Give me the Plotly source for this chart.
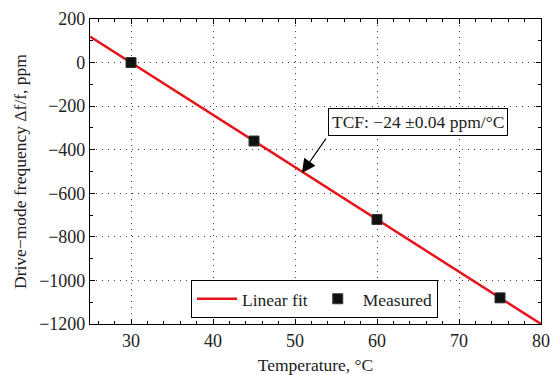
import plotly.graph_objects as go

temps = [30, 45, 60, 75]
measured = [0, -360, -720, -1080]
fit_x = [25, 80]
fit_y = [120, -1200]
y_ticks = [200, 0, -200, -400, -600, -800, -1000, -1200]
x_ticks = [30, 40, 50, 60, 70, 80]

FONT = "Liberation Serif"
TXT = "#222222"

fig = go.Figure()
fig.add_trace(go.Scatter(x=fit_x, y=fit_y, mode="lines", name="Linear fit",
                         line=dict(color="#e8141b", width=2.5)))
fig.add_trace(go.Scatter(x=temps, y=measured, mode="markers", name="Measured",
                         marker=dict(symbol="square", size=10, color="#111111",
                                     line=dict(color="#333333", width=1))))

axis_common = dict(showline=True, linecolor="black", linewidth=1.2, mirror="allticks",
                   ticks="inside", ticklen=5, tickcolor="black", automargin=False,
                   showgrid=True, gridcolor="#444444", griddash="1px,5px", gridwidth=1,
                   zeroline=False, tickfont=dict(family=FONT, size=18, color=TXT))

fig.update_xaxes(range=[25, 80], tickvals=x_ticks, title=dict(text="Temperature, \u00b0C",
                 font=dict(family=FONT, size=17.5, color=TXT), standoff=10),
                 minor=dict(ticks="inside", dtick=2, tick0=0, ticklen=3, tickcolor="black", showgrid=False),
                 **axis_common)
fig.update_yaxes(range=[-1200, 200], tickvals=y_ticks,
                 ticktext=[str(v).replace("-", "\u2212") for v in y_ticks],
                 title=dict(text="Drive\u2212mode frequency \u0394f/f, ppm",
                            font=dict(family=FONT, size=17.5, color=TXT), standoff=8),
                 minor=dict(ticks="inside", dtick=100, ticklen=3, tickcolor="black", showgrid=False),
                 **axis_common)

fig.add_annotation(x=65.0, y=-272, xref="x", yref="y", showarrow=False,
                   text="TCF: \u221224 \u00b10.04 ppm/\u00b0C",
                   font=dict(family=FONT, size=17.5, color=TXT),
                   bgcolor="white", bordercolor="black", borderwidth=1, borderpad=3)
fig.add_annotation(x=50.85, y=-507, ax=53.9, ay=-342, xref="x", yref="y",
                   axref="x", ayref="y", text="", showarrow=True,
                   arrowhead=2, arrowsize=2.5, arrowwidth=1.1, arrowcolor="black")

fig.update_layout(width=551, height=375, margin=dict(l=90, r=10, t=19, b=51),
                  plot_bgcolor="white", paper_bgcolor="white",
                  font=dict(family=FONT, size=17.5, color=TXT),
                  legend=dict(orientation="h", x=0.224, y=0.02, xanchor="left", yanchor="bottom",
                              bgcolor="white", bordercolor="black", borderwidth=1,
                              font=dict(family=FONT, size=17.5, color=TXT),
                              itemwidth=40, tracegroupgap=0))

fig.write_html("out.html")
